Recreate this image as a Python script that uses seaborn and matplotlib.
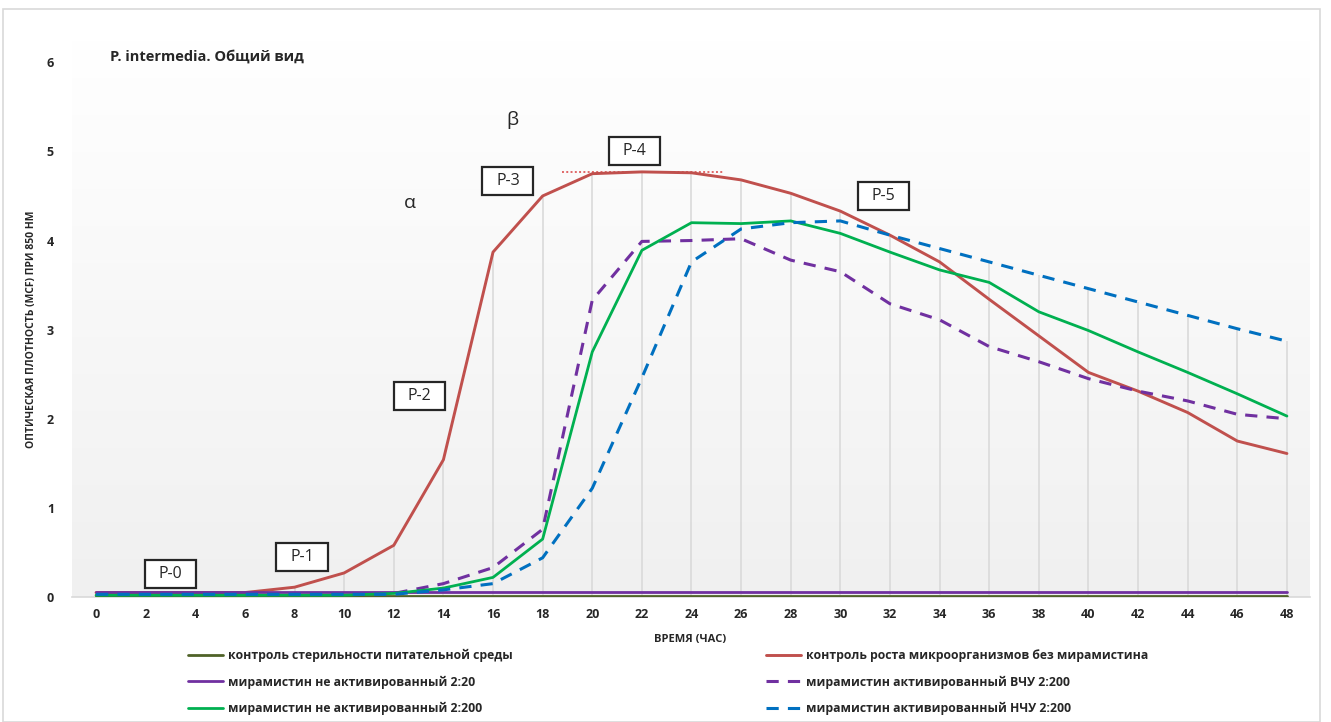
import matplotlib
matplotlib.use("Agg")
import matplotlib.pyplot as plt
import matplotlib.patches as patches
import numpy as np
import pandas as pd
import seaborn as sns

# Time points (hours)
hours = list(range(0, 49, 2))

# Optical density series
sterility = [0.01, 0.01, 0.01, 0.01, 0.01, 0.01, 0.01, 0.01, 0.01, 0.01, 0.01, 0.01, 0.01,
             0.01, 0.01, 0.01, 0.01, 0.01, 0.01, 0.01, 0.01, 0.01, 0.01, 0.01, 0.01]
growth = [0.05, 0.05, 0.05, 0.05, 0.11, 0.27, 0.58, 1.54, 3.87, 4.50, 4.75, 4.77, 4.76,
          4.68, 4.53, 4.33, 4.06, 3.76, 3.34, 2.93, 2.52, 2.31, 2.07, 1.75, 1.61]
miram_2_20 = [0.06, 0.06, 0.06, 0.06, 0.06, 0.06, 0.06, 0.06, 0.06, 0.06, 0.06, 0.06, 0.06,
              0.06, 0.06, 0.06, 0.06, 0.06, 0.06, 0.06, 0.06, 0.06, 0.06, 0.06, 0.06]
miram_vchu = [0.03, 0.03, 0.03, 0.03, 0.03, 0.03, 0.04, 0.15, 0.33, 0.76, 3.33, 3.99, 4.00,
              4.02, 3.78, 3.65, 3.29, 3.11, 2.81, 2.64, 2.45, 2.31, 2.20, 2.05, 2.00]
miram_2_200 = [0.02, 0.02, 0.02, 0.02, 0.02, 0.02, 0.04, 0.10, 0.22, 0.65, 2.75, 3.89, 4.20,
               4.19, 4.22, 4.08, 3.87, 3.67, 3.53, 3.20, 2.99, 2.75, 2.52, 2.28, 2.03]
miram_nchu = [0.03, 0.03, 0.03, 0.03, 0.03, 0.03, 0.03, 0.08, 0.15, 0.44, 1.22, 2.46, 3.76,
              4.13, 4.20, 4.22, 4.06, 3.91, 3.76, 3.61, 3.46, 3.31, 3.16, 3.01, 2.87]

labels = [
    "контроль стерильности питательной среды",
    "контроль роста микроорганизмов без мирамистина",
    "мирамистин не активированный 2:20",
    "мирамистин активированный ВЧУ 2:200",
    "мирамистин не активированный 2:200",
    "мирамистин активированный НЧУ 2:200",
]
series = [sterility, growth, miram_2_20, miram_vchu, miram_2_200, miram_nchu]
colors = ["#4F6228", "#C0504D", "#7030A0", "#7030A0", "#00B050", "#0070C0"]
dashed = [False, False, False, True, False, True]
widths = [2.0, 2.1, 2.0, 2.2, 2.0, 2.2]

# Phase labels
phase_names = ["P-0", "P-1", "P-2", "P-3", "P-4", "P-5"]
phase_x = [3.0, 8.3, 13.05, 16.6, 21.7, 31.75]
phase_y = [0.26, 0.45, 2.26, 4.67, 5.01, 4.50]

sns.set_theme(style="white")
plt.rcParams["font.family"] = ["Open Sans", "DejaVu Sans"]

fig = plt.figure(figsize=(13.31, 7.22), dpi=100)
ax = fig.add_axes([72 / 1331, 1 - 597 / 722, 1238 / 1331, 557 / 722])

# Chart-area border
fig.patches.append(patches.Rectangle((3 / 1331, 0.0), 1317 / 1331, 1 - 9 / 722,
                                     transform=fig.transFigure, fill=False,
                                     edgecolor="#D9D9D9", lw=1.2))

# Plot-area gradient
grad = np.linspace(1, 0, 256).reshape(-1, 1)
ax.imshow(grad, extent=[0, 1, 0, 1], transform=ax.transAxes, aspect="auto",
          cmap=matplotlib.colors.LinearSegmentedColormap.from_list("g", ["#F0F0F0", "#FFFFFF"]),
          zorder=0)

# Drop lines up to highest series
tops = np.max(np.array(series), axis=0)
ax.vlines(hours, 0, tops, color="#DADADA", lw=1.2, zorder=1)

df = pd.DataFrame({"hours": hours})
for vals, lab, col, dsh, lw in zip(series, labels, colors, dashed, widths):
    df[lab] = vals
    line_kw = dict(dashes=(4, 3)) if dsh else {}
    sns.lineplot(data=df, x="hours", y=lab, color=col, lw=lw, ax=ax, label=lab,
                 zorder=3, **line_kw)

# Plateau marker
ax.hlines(4.77, 18.8, 25.3, color="#E06666", lw=1.4, linestyles=(0, (1, 1.2)), zorder=2)

# Phase boxes
for name, px, py in zip(phase_names, phase_x, phase_y):
    ax.add_patch(patches.Rectangle((px - 1.03, py - 0.157), 2.06, 0.314,
                                   facecolor="white", edgecolor="#262626", lw=1.6, zorder=4))
    ax.text(px, py, name, ha="center", va="center", fontsize=11.5, color="#262626", zorder=5)

ax.text(12.66, 4.42, "α", ha="center", va="center", fontsize=14, color="#262626")
ax.text(16.77, 5.35, "β", ha="center", va="center", fontsize=14, color="#262626")

ax.set_xlim(-0.97, 48.93)
ax.set_ylim(0, 6.25)
ax.set_xticks(hours)
ax.set_yticks(range(0, 7))
ax.tick_params(axis="both", length=0, labelsize=9, colors="#262626")
ax.tick_params(axis="x", pad=8)
ax.tick_params(axis="y", pad=13)
for t in ax.get_xticklabels() + ax.get_yticklabels():
    t.set_fontweight("bold")

for s in ["top", "left", "right"]:
    ax.spines[s].set_visible(False)
ax.spines["bottom"].set_color("#D9D9D9")
ax.spines["bottom"].set_linewidth(1.2)

ax.set_xlabel("ВРЕМЯ (ЧАС)", fontsize=8, fontweight="bold", color="#262626")
ax.xaxis.set_label_coords(0.499, -0.066)
ax.set_ylabel("ОПТИЧЕСКАЯ ПЛОТНОСТЬ (MCF) ПРИ 850 НМ", fontsize=7.5, fontweight="bold",
              color="#262626")
ax.yaxis.set_label_coords(-0.028, 0.48)

fig.text(110 / 1331, 1 - 57 / 722, "P. intermedia. Общий вид", fontsize=10.5,
         fontweight="bold", color="#262626", va="center", ha="left")

# Legend in two columns under the axes
handles, labs = ax.get_legend_handles_labels()
ax.get_legend().remove()
leg_kw = dict(frameon=False, handlelength=2.9, handletextpad=0.4,
              labelspacing=1.1, loc="upper left", prop={"weight": "bold", "size": 8.8})
fig.legend([handles[0], handles[2], handles[4]], [labs[0], labs[2], labs[4]],
           bbox_to_anchor=(177 / 1331, 1 - 638 / 722), **leg_kw)
fig.legend([handles[1], handles[3], handles[5]], [labs[1], labs[3], labs[5]],
           bbox_to_anchor=(755 / 1331, 1 - 638 / 722), **leg_kw)

fig.savefig("out.png", dpi=100)
